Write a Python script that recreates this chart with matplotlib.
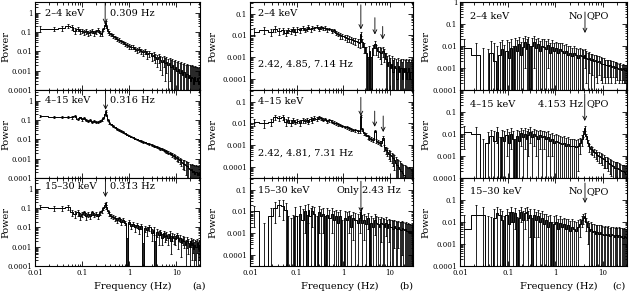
import matplotlib
matplotlib.use('Agg')
import matplotlib.pyplot as plt
from matplotlib.ticker import FixedLocator, LogLocator, NullFormatter, FixedFormatter

plt.rcParams.update({'font.family': 'DejaVu Serif', 'axes.linewidth': 0.7})

# ---- column (a): bin centres (Hz), power, 1-sigma errors ----
freq_a = [0.013, 0.025, 0.038, 0.05, 0.06, 0.07, 0.08, 0.09, 0.1, 0.11,
          0.12, 0.135, 0.15, 0.165, 0.18, 0.2, 0.22, 0.24, 0.26, 0.28,
          0.3, 0.315, 0.33, 0.35, 0.38, 0.41, 0.45, 0.5, 0.55, 0.6,
          0.67, 0.74, 0.82, 0.9, 1.0, 1.1, 1.22, 1.35, 1.5, 1.65,
          1.82, 2.0, 2.2, 2.45, 2.7, 3.0, 3.3, 3.6, 4.0, 4.3,
          4.6, 5.0, 5.4, 5.8, 6.2, 6.7, 7.2, 7.7, 8.3, 8.9,
          9.6, 10.3, 11.1, 11.9, 12.8, 13.7, 14.7, 15.8, 17.0, 18.2,
          19.5, 20.5, 21.5, 22.6, 23.8, 25.0, 26.3, 27.7, 29.2, 31.0]

pow_a_soft = [0.15, 0.15, 0.16, 0.22, 0.18, 0.12, 0.15, 0.11, 0.12, 0.10,
              0.11, 0.09, 0.10, 0.12, 0.09, 0.11, 0.13, 0.09, 0.08, 0.14,
              0.25, 0.30, 0.20, 0.12, 0.09, 0.08, 0.065, 0.055, 0.045, 0.04,
              0.033, 0.03, 0.025, 0.022, 0.019, 0.017, 0.018, 0.014, 0.012, 0.013,
              0.010, 0.009, 0.010, 0.007, 0.008, 0.006, 0.0065, 0.005, 0.004, 0.005,
              0.0035, 0.003, 0.0038, 0.0025, 0.003, 0.002, 0.0024, 0.0016, 0.002, 0.0012,
              0.0015, 0.001, 0.0013, 0.0008, 0.0011, 0.0006, 0.0009, 0.0005, 0.0007, 0.0004,
              0.0006, 0.0003, 0.0005, 0.0004, 0.0002, 0.0005, 0.0003, 0.0004, 0.0002, 0.0003]
err_a_soft = [0.05, 0.04, 0.04, 0.06, 0.05, 0.04, 0.04, 0.03, 0.03, 0.03,
              0.03, 0.025, 0.025, 0.03, 0.025, 0.025, 0.03, 0.025, 0.02, 0.03,
              0.05, 0.06, 0.04, 0.025, 0.02, 0.015, 0.012, 0.01, 0.009, 0.008,
              0.007, 0.006, 0.006, 0.005, 0.005, 0.004, 0.004, 0.004, 0.0035, 0.0035,
              0.003, 0.003, 0.003, 0.003, 0.003, 0.0028, 0.0028, 0.0026, 0.0025, 0.0025,
              0.0024, 0.0024, 0.0023, 0.0022, 0.0022, 0.0021, 0.0021, 0.002, 0.002, 0.002,
              0.0019, 0.0018, 0.0018, 0.0017, 0.0017, 0.0016, 0.0016, 0.0015, 0.0015, 0.0015,
              0.0014, 0.0014, 0.0014, 0.0013, 0.0013, 0.0013, 0.0012, 0.0012, 0.0012, 0.0012]

pow_a_mid = [0.16, 0.15, 0.15, 0.15, 0.14, 0.16, 0.12, 0.14, 0.11, 0.13,
             0.10, 0.09, 0.10, 0.085, 0.09, 0.08, 0.085, 0.09, 0.10, 0.13,
             0.2, 0.3, 0.18, 0.1, 0.075, 0.06, 0.05, 0.043, 0.036, 0.032,
             0.027, 0.024, 0.021, 0.018, 0.016, 0.014, 0.013, 0.011, 0.010, 0.009,
             0.0085, 0.0075, 0.007, 0.0062, 0.0058, 0.0052, 0.0048, 0.0044, 0.004, 0.0037,
             0.0034, 0.0031, 0.0029, 0.0026, 0.0024, 0.0021, 0.002, 0.0018, 0.0016, 0.0014,
             0.0013, 0.0011, 0.001, 0.00085, 0.0007, 0.0006, 0.00055, 0.00045, 0.0004, 0.00035,
             0.0003, 0.00025, 0.00028, 0.0002, 0.00022, 0.00017, 0.0002, 0.00015, 0.00018, 0.00014]
err_a_mid = [0.02, 0.02, 0.02, 0.02, 0.02, 0.02, 0.015, 0.015, 0.015, 0.015,
             0.012, 0.012, 0.012, 0.01, 0.01, 0.01, 0.01, 0.01, 0.01, 0.012,
             0.02, 0.03, 0.02, 0.01, 0.008, 0.006, 0.005, 0.004, 0.0035, 0.003,
             0.0025, 0.0022, 0.002, 0.0017, 0.0015, 0.0013, 0.0012, 0.001, 0.0009, 0.0008,
             0.0008, 0.0007, 0.0006, 0.0006, 0.0005, 0.0005, 0.0005, 0.0004, 0.0004, 0.0004,
             0.0004, 0.0004, 0.0004, 0.0003, 0.0003, 0.0003, 0.0003, 0.0003, 0.0003, 0.0003,
             0.0003, 0.0003, 0.0003, 0.0003, 0.0003, 0.0003, 0.0003, 0.0003, 0.0003, 0.0003,
             0.00025, 0.00025, 0.00025, 0.00025, 0.00025, 0.00025, 0.00025, 0.00025, 0.00025, 0.00025]

pow_a_hard = [0.12, 0.10, 0.10, 0.11, 0.06, 0.05, 0.06, 0.04, 0.05, 0.06,
              0.04, 0.05, 0.04, 0.06, 0.045, 0.05, 0.04, 0.06, 0.07, 0.10,
              0.15, 0.18, 0.12, 0.07, 0.05, 0.04, 0.035, 0.03, 0.025, 0.03,
              0.02, 0.025, 0.018, -0.002, 0.02, 0.012, 0.016, 0.01, 0.013, 0.008,
              0.012, -0.002, 0.009, 0.007, 0.01, 0.005, 0.007, -0.001, 0.006, 0.004,
              0.006, 0.003, 0.005, 0.0035, 0.004, 0.003, 0.0045, 0.002, 0.0035, 0.003,
              0.0025, 0.004, 0.002, 0.003, 0.0015, 0.0025, 0.002, 0.0012, 0.002, 0.0015,
              0.001, 0.002, 0.0012, 0.0015, 0.0008, 0.0012, 0.001, 0.0015, 0.0008, 0.0012]
err_a_hard = [0.03, 0.025, 0.025, 0.03, 0.02, 0.02, 0.02, 0.015, 0.015, 0.015,
              0.015, 0.015, 0.012, 0.015, 0.012, 0.012, 0.012, 0.015, 0.015, 0.02,
              0.03, 0.03, 0.025, 0.015, 0.012, 0.01, 0.009, 0.008, 0.007, 0.007,
              0.006, 0.006, 0.005, 0.005, 0.005, 0.004, 0.004, 0.004, 0.004, 0.0035,
              0.0035, 0.0035, 0.0033, 0.0032, 0.0032, 0.003, 0.003, 0.003, 0.0028, 0.0028,
              0.0018, 0.0018, 0.0018, 0.0018, 0.0017, 0.0017, 0.0017, 0.0016, 0.0016, 0.0016,
              0.0013, 0.0013, 0.0012, 0.0012, 0.0012, 0.0012, 0.0011, 0.0011, 0.0011, 0.0011,
              0.001, 0.001, 0.001, 0.001, 0.001, 0.001, 0.001, 0.001, 0.001, 0.001]

# ---- column (b) ----
freq_b = [0.012, 0.02, 0.028, 0.035, 0.042, 0.05, 0.058, 0.066, 0.075, 0.085,
          0.095, 0.105, 0.12, 0.135, 0.15, 0.165, 0.18, 0.2, 0.22, 0.24,
          0.27, 0.3, 0.33, 0.37, 0.41, 0.46, 0.51, 0.57, 0.63, 0.7,
          0.78, 0.87, 0.97, 1.08, 1.2, 1.33, 1.48, 1.65, 1.85, 2.1,
          2.3, 2.42, 2.55, 2.8, 3.1, 3.4, 3.7, 4.0, 4.4, 4.83,
          5.2, 5.6, 6.1, 6.6, 7.2, 7.8, 8.4, 9.0, 9.7, 10.4,
          11.1, 11.9, 12.7, 13.6, 14.5, 15.5, 16.5, 17.6, 18.7, 19.9,
          21.1, 22.3, 23.5, 24.8, 26.1, 27.4, 28.7, 30.0, 31.0, 31.7]

pow_b_soft = [0.015, 0.018, 0.014, 0.02, 0.016, 0.017, 0.013, 0.018, 0.016, 0.02,
              0.015, 0.019, 0.017, 0.022, 0.018, 0.02, 0.024, 0.019, 0.023, 0.021,
              0.025, 0.02, 0.024, 0.021, 0.022, 0.019, 0.02, 0.016, 0.017, 0.013,
              0.012, 0.01, 0.009, 0.0085, 0.0075, 0.007, 0.0065, 0.006, 0.0055, 0.005,
              0.0045, 0.012, 0.005, 0.003, 0.0015, -0.0005, 0.002, -0.0002, 0.0025, 0.004,
              0.0025, 0.002, 0.0018, 0.0015, 0.002, 0.0015, 0.0008, 0.0004, 0.0006, 0.0003,
              0.0005, 0.0002, 0.0004, 0.0003, 0.0001, 0.0004, 0.0002, 0.0003, 0.0001, 0.0003,
              0.0002, 0.0003, 0.0001, 0.0002, 0.0003, 0.0001, 0.0002, 0.0002, 0.0001, 0.0003]
err_b_soft = [0.006, 0.006, 0.005, 0.006, 0.005, 0.005, 0.004, 0.005, 0.004, 0.005,
              0.004, 0.005, 0.004, 0.005, 0.004, 0.004, 0.005, 0.004, 0.004, 0.004,
              0.004, 0.004, 0.004, 0.004, 0.004, 0.004, 0.003, 0.003, 0.003, 0.003,
              0.003, 0.003, 0.0025, 0.0025, 0.0025, 0.002, 0.002, 0.002, 0.002, 0.002,
              0.002, 0.003, 0.002, 0.0015, 0.0015, 0.0015, 0.0012, 0.0012, 0.0012, 0.0015,
              0.0012, 0.001, 0.001, 0.001, 0.001, 0.0009, 0.0008, 0.0007, 0.0007, 0.0006,
              0.0006, 0.0005, 0.0005, 0.0005, 0.0005, 0.0005, 0.0005, 0.0005, 0.0005, 0.0005,
              0.0005, 0.0005, 0.0005, 0.0005, 0.0005, 0.0005, 0.0005, 0.0005, 0.0005, 0.0005]

pow_b_mid = [0.012, 0.01, 0.012, 0.02, 0.018, 0.02, 0.012, 0.015, 0.011, 0.014,
             0.012, 0.013, 0.011, 0.014, 0.013, 0.015, 0.012, 0.016, 0.014, 0.018,
             0.016, 0.019, 0.017, 0.015, 0.016, 0.013, 0.014, 0.012, 0.011, 0.01,
             0.009, 0.0085, 0.0075, 0.007, 0.0065, 0.006, 0.0055, 0.005, 0.0048, 0.0045,
             0.0045, 0.022, 0.0055, 0.0035, 0.003, 0.0025, 0.0022, 0.002, 0.0018, 0.0045,
             0.0016, 0.0014, 0.0013, 0.0012, 0.0022, 0.0008, 0.0006, 0.0005, 0.0004, 0.00035,
             0.0003, 0.00025, 0.0002, 0.00015, 0.00012, 0.0001, 0.00008, 0.00006, 0.00005, 0.00004,
             0.00004, 0.00003, 0.00003, 0.00002, 0.00003, 0.00002, 0.00002, 0.00001, 0.00002, 0.00001]
err_b_mid = [0.004, 0.004, 0.004, 0.005, 0.005, 0.005, 0.004, 0.004, 0.003, 0.004,
             0.003, 0.003, 0.003, 0.003, 0.003, 0.003, 0.003, 0.003, 0.003, 0.003,
             0.003, 0.003, 0.003, 0.002, 0.002, 0.002, 0.002, 0.002, 0.0015, 0.0015,
             0.0012, 0.0012, 0.001, 0.001, 0.0009, 0.0008, 0.0008, 0.0007, 0.0007, 0.0007,
             0.0007, 0.003, 0.0008, 0.0006, 0.0005, 0.0005, 0.0004, 0.0004, 0.0004, 0.0006,
             0.0004, 0.0003, 0.0003, 0.0003, 0.0004, 0.00025, 0.0002, 0.0002, 0.00018, 0.00016,
             0.00015, 0.00014, 0.00013, 0.00012, 0.00011, 0.0001, 0.0001, 0.00009, 0.00009, 0.00008,
             0.00008, 0.00008, 0.00007, 0.00007, 0.00007, 0.00007, 0.00006, 0.00006, 0.00006, 0.00006]

pow_b_hard = [0.01, -0.005, 0.006, 0.015, 0.02, 0.018, 0.012, -0.004, -0.005, -0.003,
              0.006, -0.003, 0.008, 0.004, 0.01, -0.002, 0.012, 0.006, 0.01, 0.008,
              -0.002, 0.009, 0.006, 0.008, -0.001, 0.007, 0.005, 0.008, 0.004, 0.006,
              0.003, 0.006, -0.001, 0.005, 0.004, 0.006, 0.002, 0.005, 0.004, 0.003,
              0.005, 0.009, 0.003, 0.004, 0.0025, 0.005, -0.001, 0.003, 0.002, 0.004,
              0.003, 0.0025, 0.002, 0.003, 0.0025, 0.002, 0.003, 0.0018, 0.0025, 0.002,
              0.002, 0.0015, 0.0022, 0.0018, 0.0015, 0.002, 0.0016, 0.0014, 0.0018, 0.0015,
              0.0014, 0.0015, 0.0012, 0.0013, 0.0011, 0.0012, 0.001, 0.0012, 0.0011, 0.001]
err_b_hard = [0.008, 0.008, 0.008, 0.012, 0.014, 0.014, 0.012, 0.01, 0.01, 0.01,
              0.01, 0.009, 0.009, 0.009, 0.009, 0.009, 0.009, 0.008, 0.008, 0.008,
              0.008, 0.008, 0.007, 0.007, 0.007, 0.007, 0.007, 0.007, 0.006, 0.006,
              0.006, 0.006, 0.005, 0.005, 0.005, 0.005, 0.0045, 0.0045, 0.0045, 0.0045,
              0.004, 0.005, 0.0035, 0.0035, 0.0035, 0.0035, 0.0035, 0.0032, 0.0032, 0.0032,
              0.003, 0.0028, 0.0027, 0.0026, 0.0025, 0.0024, 0.0023, 0.0022, 0.0021, 0.002,
              0.002, 0.002, 0.002, 0.0019, 0.0019, 0.0018, 0.0018, 0.0017, 0.0017, 0.0016,
              0.0016, 0.0016, 0.0015, 0.0015, 0.0015, 0.0014, 0.0014, 0.0014, 0.0013, 0.0013]

# ---- column (c) ----
freq_c = [0.012, 0.022, 0.03, 0.038, 0.045, 0.052, 0.06, 0.068, 0.076, 0.085,
          0.095, 0.105, 0.115, 0.13, 0.145, 0.16, 0.175, 0.19, 0.21, 0.23,
          0.25, 0.27, 0.3, 0.33, 0.36, 0.4, 0.44, 0.48, 0.53, 0.58,
          0.64, 0.7, 0.77, 0.85, 0.94, 1.04, 1.15, 1.27, 1.4, 1.55,
          1.7, 1.88, 2.07, 2.28, 2.5, 2.75, 3.0, 3.3, 3.6, 3.9,
          4.15, 4.45, 4.8, 5.2, 5.6, 6.0, 6.5, 7.0, 7.6, 8.2,
          8.9, 9.6, 10.4, 11.2, 12.1, 13.0, 14.0, 15.1, 16.3, 17.5,
          18.8, 20.2, 21.7, 23.2, 24.8, 26.4, 28.0, 29.6, 30.9, 31.7]

pow_c_soft = [0.008, 0.004, -0.002, -0.003, 0.005, 0.002, -0.002, 0.004, 0.007, -0.001,
              0.006, 0.003, 0.008, -0.002, 0.01, 0.006, 0.012, 0.004, 0.009, 0.015,
              0.007, 0.012, -0.002, 0.01, 0.015, 0.008, 0.012, 0.006, 0.01, 0.009,
              0.007, 0.011, 0.005, 0.009, 0.006, 0.008, 0.005, 0.007, 0.006, 0.005,
              0.006, 0.004, 0.005, 0.0035, 0.005, 0.004, 0.003, 0.004, 0.0035, 0.003,
              0.004, 0.003, 0.0025, 0.003, 0.0022, 0.0025, 0.002, 0.0022, 0.0018, 0.002,
              0.0017, 0.0015, 0.0016, 0.0013, 0.0014, 0.0012, 0.0013, 0.0011, 0.0012, 0.001,
              0.0011, 0.001, 0.0009, 0.001, 0.0008, 0.0009, 0.0008, 0.0008, 0.0007, 0.0008]
err_c_soft = [0.012, 0.01, 0.01, 0.01, 0.012, 0.012, 0.012, 0.012, 0.012, 0.012,
              0.012, 0.012, 0.012, 0.012, 0.012, 0.012, 0.013, 0.012, 0.013, 0.014,
              0.013, 0.014, 0.012, 0.012, 0.014, 0.012, 0.012, 0.011, 0.011, 0.011,
              0.01, 0.01, 0.009, 0.009, 0.008, 0.008, 0.008, 0.007, 0.007, 0.006,
              0.006, 0.006, 0.005, 0.005, 0.005, 0.0045, 0.004, 0.004, 0.004, 0.0035,
              0.003, 0.0028, 0.0025, 0.0024, 0.0022, 0.002, 0.0019, 0.0018, 0.0016, 0.0015,
              0.0014, 0.0013, 0.0012, 0.0011, 0.001, 0.001, 0.0009, 0.0009, 0.0008, 0.0008,
              0.0007, 0.0007, 0.0007, 0.0007, 0.0006, 0.0006, 0.0006, 0.0006, 0.0006, 0.0006]

pow_c_mid = [0.012, 0.01, -0.002, 0.004, 0.008, 0.005, 0.012, -0.001, 0.007, 0.005,
             0.009, 0.004, 0.01, 0.006, -0.002, 0.008, 0.005, 0.011, 0.007, 0.01,
             0.006, 0.009, 0.012, 0.007, 0.01, 0.008, 0.006, 0.009, 0.007, 0.008,
             0.006, 0.007, 0.005, 0.006, 0.004, 0.005, 0.0045, 0.004, 0.0035, 0.004,
             0.003, 0.0035, 0.003, 0.0028, 0.003, 0.0025, 0.003, 0.004, 0.006, 0.01,
             0.018, 0.008, 0.004, 0.0025, 0.002, 0.0018, 0.0015, 0.0013, 0.0011, 0.001,
             0.0009, 0.0008, 0.0007, 0.0006, 0.0006, 0.0005, 0.00045, 0.0004, 0.00035, 0.0003,
             0.0003, 0.00028, 0.00025, 0.00022, 0.0002, 0.0002, 0.00018, 0.00015, 0.00016, 0.00014]
err_c_mid = [0.01, 0.01, 0.008, 0.008, 0.008, 0.008, 0.008, 0.008, 0.008, 0.008,
             0.008, 0.008, 0.008, 0.008, 0.008, 0.008, 0.008, 0.008, 0.008, 0.008,
             0.008, 0.008, 0.008, 0.007, 0.007, 0.007, 0.007, 0.007, 0.007, 0.006,
             0.006, 0.006, 0.005, 0.005, 0.005, 0.005, 0.0045, 0.004, 0.004, 0.004,
             0.0035, 0.0035, 0.003, 0.003, 0.003, 0.0028, 0.0028, 0.0028, 0.003, 0.003,
             0.004, 0.0022, 0.0012, 0.0009, 0.0008, 0.0007, 0.0006, 0.0006, 0.0005, 0.0005,
             0.0004, 0.0004, 0.0004, 0.0003, 0.0003, 0.0003, 0.0003, 0.00028, 0.00025, 0.00025,
             0.00025, 0.00024, 0.00022, 0.00022, 0.0002, 0.0002, 0.0002, 0.0002, 0.0002, 0.0002]

pow_c_hard = [0.005, 0.02, 0.02, -0.002, -0.003, 0.015, 0.025, 0.02, 0.012, -0.002,
              0.02, 0.008, 0.03, 0.01, 0.025, -0.003, 0.015, 0.03, 0.012, 0.025,
              0.03, 0.015, 0.02, -0.002, 0.02, 0.012, 0.018, 0.01, 0.015, 0.008,
              0.012, 0.006, 0.01, -0.001, 0.008, 0.01, 0.005, 0.009, 0.006, 0.008,
              0.005, 0.007, 0.004, 0.006, 0.005, 0.004, 0.006, 0.008, 0.012, 0.015,
              0.018, 0.01, 0.006, 0.004, 0.005, 0.0035, 0.004, 0.003, 0.0035, 0.003,
              0.0035, 0.003, 0.0025, 0.003, 0.0025, 0.003, 0.0022, 0.0028, 0.0025, 0.002,
              0.0025, 0.002, 0.0025, 0.002, 0.0022, 0.0018, 0.0022, 0.002, 0.0018, 0.002]
err_c_hard = [0.015, 0.04, 0.03, 0.02, 0.02, 0.025, 0.025, 0.02, 0.02, 0.02,
              0.02, 0.02, 0.02, 0.02, 0.02, 0.02, 0.02, 0.02, 0.02, 0.02,
              0.018, 0.018, 0.018, 0.018, 0.018, 0.016, 0.016, 0.016, 0.016, 0.016,
              0.012, 0.012, 0.011, 0.011, 0.01, 0.01, 0.009, 0.009, 0.008, 0.008,
              0.008, 0.007, 0.007, 0.007, 0.006, 0.006, 0.006, 0.006, 0.006, 0.007,
              0.007, 0.006, 0.005, 0.005, 0.005, 0.0045, 0.0045, 0.004, 0.004, 0.004,
              0.0038, 0.0036, 0.0036, 0.0035, 0.0035, 0.0035, 0.0034, 0.0034, 0.0033, 0.0033,
              0.0032, 0.0032, 0.0032, 0.0031, 0.0031, 0.003, 0.003, 0.003, 0.003, 0.003]

band_labels = ['2\u20134 keV', '4\u201315 keV', '15\u201330 keV']

FIG_W, FIG_H = 629, 294
col_left = [35, 250, 460]
col_width = [165, 163, 167]
row_top = [2, 90, 178]
row_h = 88


def style_axes(ax, ylim, ylabels, bottom):
    ax.set_xscale('log')
    ax.set_yscale('log')
    ax.set_xlim(0.01, 32)
    ax.set_ylim(*ylim)
    ax.tick_params(which='both', direction='in', top=True, right=True, width=0.6, labelsize=5, pad=2)
    ax.tick_params(which='major', length=3.5)
    ax.tick_params(which='minor', length=1.8)
    ax.xaxis.set_minor_locator(LogLocator(base=10, subs=range(2, 10)))
    ax.yaxis.set_minor_locator(LogLocator(base=10, subs=range(2, 10)))
    ax.xaxis.set_minor_formatter(NullFormatter())
    ax.yaxis.set_minor_formatter(NullFormatter())
    yt = [1e-4, 1e-3, 1e-2, 0.1, 1]
    ax.yaxis.set_major_locator(FixedLocator(yt))
    ax.yaxis.set_major_formatter(FixedFormatter([l if l in ylabels else '' for l in ['0.0001', '0.001', '0.01', '0.1', '1']]))
    ax.xaxis.set_major_locator(FixedLocator([0.01, 0.1, 1, 10]))
    if bottom:
        ax.xaxis.set_major_formatter(FixedFormatter(['0.01', '0.1', '1', '10']))
    else:
        ax.xaxis.set_major_formatter(NullFormatter())
    for s in ax.spines.values():
        s.set_linewidth(0.8)


def draw_spectrum(ax, freq, power, err):
    ax.step(freq, power, where='mid', color='k', lw=0.7)
    ax.errorbar(freq, power, yerr=err, fmt='none', ecolor='k', elinewidth=0.6, capsize=0.9, capthick=0.6)


def arrow(ax, f, y0, y1):
    ax.annotate('', xy=(f, y1), xytext=(f, y0),
                arrowprops=dict(arrowstyle='->', lw=0.6, color='k', shrinkA=0, shrinkB=0, mutation_scale=7))


fig = plt.figure(figsize=(FIG_W / 100, FIG_H / 100), dpi=100)
axes = []
for c in range(3):
    col = []
    for r in range(3):
        rect = [col_left[c] / FIG_W, 1 - (row_top[r] + row_h) / FIG_H, col_width[c] / FIG_W, row_h / FIG_H]
        col.append(fig.add_axes(rect))
    axes.append(col)

spectra = [
    [(freq_a, pow_a_soft, err_a_soft), (freq_a, pow_a_mid, err_a_mid), (freq_a, pow_a_hard, err_a_hard)],
    [(freq_b, pow_b_soft, err_b_soft), (freq_b, pow_b_mid, err_b_mid), (freq_b, pow_b_hard, err_b_hard)],
    [(freq_c, pow_c_soft, err_c_soft), (freq_c, pow_c_mid, err_c_mid), (freq_c, pow_c_hard, err_c_hard)],
]
ylims = [(1e-4, 3.7), (3e-5, 0.35), (1e-4, 1.0)]
ylabel_sets = [
    [['0.0001', '0.001', '0.01', '0.1', '1']] * 3,
    [['0.0001', '0.001', '0.01', '0.1']] * 3,
    [['0.0001', '0.001', '0.01', '0.1', '1'], ['0.0001', '0.001', '0.01', '0.1'], ['0.0001', '0.001', '0.01', '0.1']],
]
ylab_x = [-0.15, -0.2, -0.18]
label_x = [0.016, 0.0149, 0.0162]
label_y = [[0.875, 0.88, 0.9], [0.865, 0.87, 0.86], [0.84, 0.84, 0.85]]

for c in range(3):
    for r in range(3):
        ax = axes[c][r]
        style_axes(ax, ylims[c], ylabel_sets[c][r], r == 2)
        draw_spectrum(ax, *spectra[c][r])
        ax.set_ylabel('Power', fontsize=7)
        ax.yaxis.set_label_coords(ylab_x[c], 0.5)
        ax.text(label_x[c], label_y[c][r], band_labels[r], transform=ax.get_xaxis_transform(),
                fontsize=7, ha='left', va='center')

# column (a): single QPO near 0.3 Hz
qpo_a = [0.309, 0.316, 0.313]
arrow_a = [(3.2, 0.27), (3.2, 0.35), (3.2, 0.38)]
for r in range(3):
    ax = axes[0][r]
    arrow(ax, qpo_a[r], *arrow_a[r])
    ax.text(0.40, label_y[0][r], f'{qpo_a[r]:.3f} Hz', transform=ax.get_xaxis_transform(),
            fontsize=7, ha='left', va='center')

# column (b): harmonics
qpo_b_soft = [2.42, 4.85, 7.14]
qpo_b_mid = [2.42, 4.81, 7.31]
arrows_b_soft = [(0.26, 0.019), (0.066, 0.011), (0.026, 0.0066)]
arrows_b_mid = [(0.16, 0.022), (0.037, 0.007), (0.022, 0.004)]
for f, (y0, y1) in zip(qpo_b_soft, arrows_b_soft):
    arrow(axes[1][0], f, y0, y1)
for f, (y0, y1) in zip(qpo_b_mid, arrows_b_mid):
    arrow(axes[1][1], f, y0, y1)
axes[1][0].text(label_x[1], 0.29, ', '.join(f'{f:.2f}' for f in qpo_b_soft) + ' Hz',
                transform=axes[1][0].get_xaxis_transform(), fontsize=7, ha='left', va='center')
axes[1][1].text(label_x[1], 0.28, ', '.join(f'{f:.2f}' for f in qpo_b_mid) + ' Hz',
                transform=axes[1][1].get_xaxis_transform(), fontsize=7, ha='left', va='center')
arrow(axes[1][2], 2.43, 0.25, 0.009)
axes[1][2].text(2.25, label_y[1][2], 'Only', transform=axes[1][2].get_xaxis_transform(),
                fontsize=7, ha='right', va='center')
axes[1][2].text(2.6, label_y[1][2], '2.43 Hz', transform=axes[1][2].get_xaxis_transform(),
                fontsize=7, ha='left', va='center')

# column (c)
qpo_c = [4.2, 4.153, 4.2]
arrows_c = [(0.35, 0.039), (0.66, 0.039), (0.59, 0.073)]
left_c = ['No', '4.153 Hz', 'No']
for r in range(3):
    ax = axes[2][r]
    arrow(ax, qpo_c[r], *arrows_c[r])
    ax.text(qpo_c[r] * 0.9, label_y[2][r], left_c[r], transform=ax.get_xaxis_transform(),
            fontsize=7, ha='right', va='center')
    ax.text(qpo_c[r] * 1.1, label_y[2][r], 'QPO', transform=ax.get_xaxis_transform(),
            fontsize=7, ha='left', va='center')

xl_centre = [133, 340, 559]
tag_x = [199, 406, 619]
for c, tag in enumerate(['(a)', '(b)', '(c)']):
    fig.text(xl_centre[c] / FIG_W, 1 - 286 / FIG_H, 'Frequency (Hz)', fontsize=7, ha='center', va='center')
    fig.text(tag_x[c] / FIG_W, 1 - 286 / FIG_H, tag, fontsize=7, ha='center', va='center')

fig.savefig('out.png', dpi=100)
